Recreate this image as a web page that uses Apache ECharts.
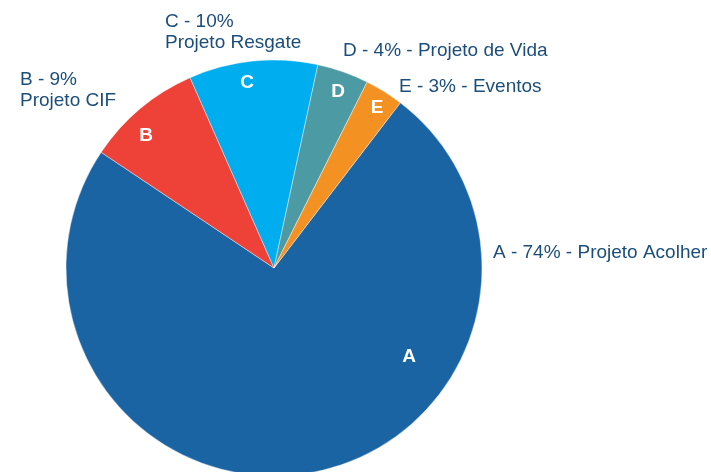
<!DOCTYPE html>
<html>
<head>
<meta charset="utf-8">
<script src="https://cdn.jsdelivr.net/npm/echarts@6/dist/echarts.min.js"></script>
<style>
html,body{margin:0;padding:0;background:#fff;}
#c{width:711px;height:472px;}
</style>
</head>
<body>
<div id="c"></div>
<script>
// Data
const categories = ['A', 'B', 'C', 'D', 'E'];
const values = [74, 9, 10, 4, 3];
const projects = ['Projeto Acolher', 'Projeto CIF', 'Projeto Resgate', 'Projeto de Vida', 'Eventos'];
const breakLine = [false, true, true, false, false];

// Styles / layout (not data)
const colors = ['#1a64a3', '#ee4137', '#00adee', '#4c9aa4', '#f39222'];
const textColor = '#1c4e7b';
const letterPos = [[409, 357], [146, 136], [247, 83], [338, 92], [377, 108]];
const outerPos = [[493, 253], [20, 90], [165, 32], [343, 51], [399, 87]];

const chart = echarts.init(document.getElementById('c'), null, {renderer: 'canvas'});

const pieData = categories.map((c, i) => ({
  name: c,
  value: values[i],
  itemStyle: {color: colors[i]}
}));

const labelData = categories.map((c, i) => ({
  name: c,
  value: values[i],
  itemStyle: {color: 'rgba(0,0,0,0)'}
}));

chart.setOption({
  animation: false,
  series: [
    {
      type: 'pie',
      center: [274, 268],
      radius: 208,
      startAngle: 52.6,
      clockwise: true,
      data: pieData,
      itemStyle: {borderColor: '#ffffff', borderWidth: 0.4},
      emphasis: {disabled: true},
      label: {
        show: true,
        position: 'inside',
        formatter: p => p.name,
        color: '#ffffff',
        fontFamily: 'Liberation Sans, Arial, sans-serif',
        fontWeight: 'bold',
        fontSize: 19
      },
      labelLine: {show: false},
      labelLayout: p => ({
        x: letterPos[p.dataIndex][0],
        y: letterPos[p.dataIndex][1],
        align: 'center',
        verticalAlign: 'middle'
      })
    },
    {
      type: 'pie',
      center: [274, 268],
      radius: 208,
      startAngle: 52.6,
      clockwise: true,
      silent: true,
      data: labelData,
      emphasis: {disabled: true},
      label: {
        show: true,
        position: 'outside',
        overflow: 'none',
        formatter: p => {
          const i = p.dataIndex;
          const head = categories[i] + ' - ' + values[i] + '%';
          return breakLine[i] ? head + '\n' + projects[i] : head + ' - ' + projects[i];
        },
        color: textColor,
        fontFamily: 'Liberation Sans, Arial, sans-serif',
        fontSize: 19,
        lineHeight: 21
      },
      labelLine: {show: false},
      labelLayout: p => ({
        x: outerPos[p.dataIndex][0],
        y: outerPos[p.dataIndex][1],
        align: 'left',
        verticalAlign: 'middle'
      })
    }
  ]
});
</script>
</body>
</html>
